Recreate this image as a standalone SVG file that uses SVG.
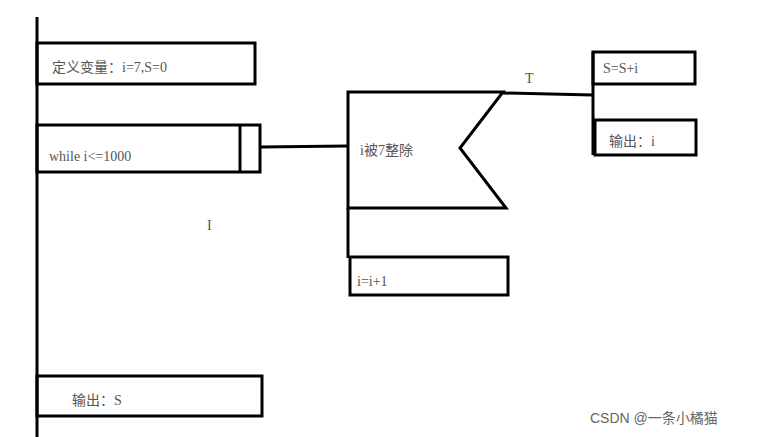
<svg xmlns="http://www.w3.org/2000/svg" width="778" height="437" viewBox="0 0 778 437">
<style>
.b{fill:none;stroke:#000;stroke-width:3}
.t{font-family:"Liberation Serif","Noto Sans CJK SC",serif;font-size:14px;fill:#555}
.w{font-family:"Liberation Sans","Noto Sans CJK SC",sans-serif;font-size:14px;fill:#666}
</style>
<rect width="778" height="437" fill="#fff"/>
<g id="connectors">
<line class="b" x1="37" y1="17" x2="37" y2="437"/>
<line class="b" x1="260" y1="147" x2="348" y2="146"/>
<line class="b" x1="348" y1="208" x2="348" y2="258"/>
<line class="b" x1="503" y1="93" x2="593" y2="95"/>
<line class="b" x1="593" y1="52" x2="593" y2="155"/>
</g>
<g id="n1"><rect class="b" x="37" y="43" width="218" height="41"/><text class="t" x="52" y="72">定义变量：i=7,S=0</text></g>
<g id="n2"><rect class="b" x="37" y="125" width="223" height="47"/><line class="b" x1="240" y1="125" x2="240" y2="172"/><text class="t" x="49" y="161">while i&lt;=1000</text></g>
<g id="n3"><path class="b" d="M348,92 H503 L460,148 L506,208 H348 Z"/><text class="t" x="360" y="155">i被7整除</text></g>
<g id="n4"><rect class="b" x="350" y="257" width="158" height="38"/><text class="t" x="357" y="286">i=i+1</text></g>
<g id="n5"><rect class="b" x="593" y="52" width="102" height="32"/><text class="t" x="603" y="73">S=S+i</text></g>
<g id="n6"><rect class="b" x="595" y="120" width="101" height="35"/><text class="t" x="609" y="146">输出：i</text></g>
<g id="n7"><rect class="b" x="37" y="376" width="225" height="40"/><text class="t" x="72" y="405">输出：S</text></g>
<text class="t" x="525" y="83">T</text>
<text class="t" x="207" y="230">I</text>
<text class="w" x="590" y="423">CSDN @一条小橘猫</text>
</svg>
